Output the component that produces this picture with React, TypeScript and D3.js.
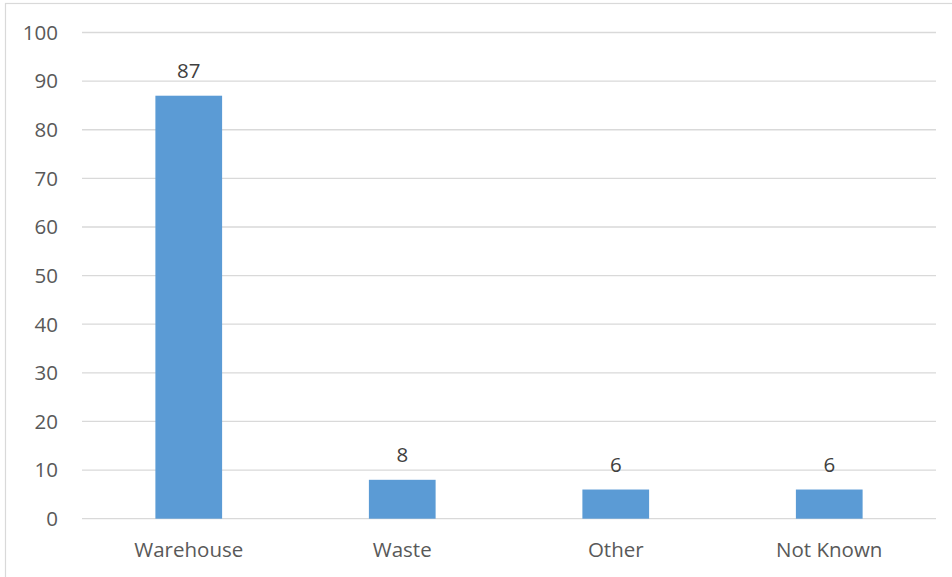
import React from "react";
import * as d3 from "d3";

const categories = ["Warehouse", "Waste", "Other", "Not Known"];
const values = [87, 8, 6, 6];
const yTicks = [0, 10, 20, 30, 40, 50, 60, 70, 80, 90, 100];

const W = 952;
const H = 577;
const FONT = "'Open Sans', 'Noto Sans', sans-serif";

export default function App() {
  const x = d3.scaleBand<string>().domain(categories).range([82, 936]).padding(0);
  const y = d3.scaleLinear().domain([0, 100]).range([518.7, 32.5]);
  const barW = x.bandwidth() * 0.3125;

  return (
    <svg
      width={W}
      height={H}
      style={{ position: "absolute", left: 0, top: 0, background: "#fff" }}
    >
      <rect x={5.5} y={3.5} width={960} height={600} fill="#fff" stroke="#D9D9D9" strokeWidth={1.2} />
      {yTicks.map((t) => (
        <g key={t}>
          <line x1={82} x2={936} y1={y(t)} y2={y(t)} stroke="#D9D9D9" strokeWidth={1.3} />
          <text
            x={58}
            y={y(t) + 7.3}
            textAnchor="end"
            fontFamily={FONT}
            fontSize={20.5}
            fill="#595959"
          >
            {t}
          </text>
        </g>
      ))}
      {categories.map((c, i) => {
        const cx = (x(c) as number) + x.bandwidth() / 2;
        return (
          <g key={c}>
            <rect
              x={cx - barW / 2}
              y={y(values[i])}
              width={barW}
              height={y(0) - y(values[i])}
              fill="#5B9BD5"
            />
            <text
              x={cx}
              y={y(values[i]) - 18}
              textAnchor="middle"
              fontFamily={FONT}
              fontSize={20.5}
              fill="#404040"
            >
              {values[i]}
            </text>
            <text
              x={cx}
              y={556.7}
              textAnchor="middle"
              fontFamily={FONT}
              fontSize={20.5}
              fill="#595959"
            >
              {c}
            </text>
          </g>
        );
      })}
    </svg>
  );
}
